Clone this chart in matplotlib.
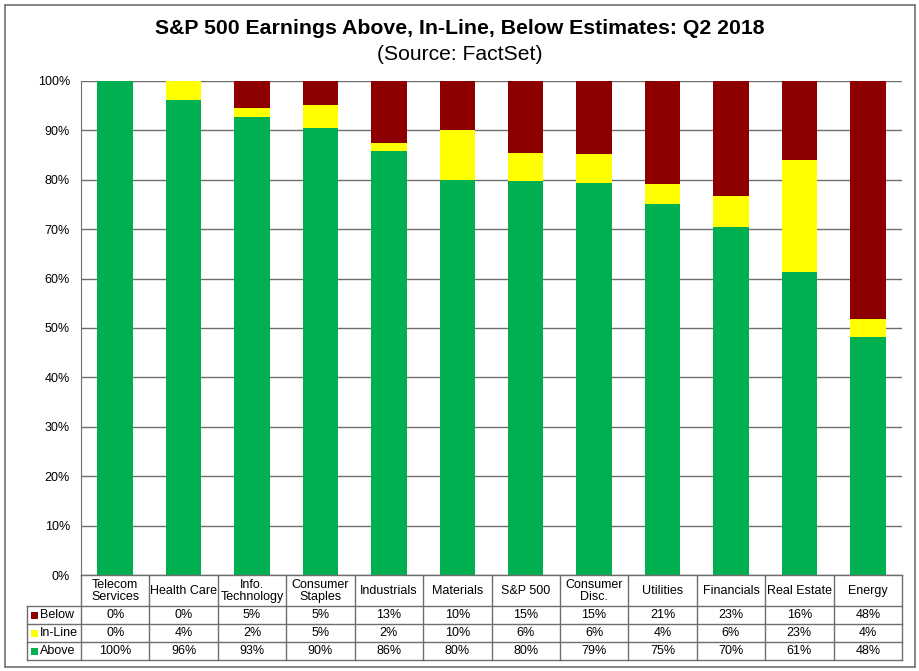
import numpy as np
import matplotlib
matplotlib.use("Agg")
import matplotlib.pyplot as plt
from matplotlib.patches import Rectangle
from matplotlib.lines import Line2D

plt.rcParams["font.family"] = ["Liberation Sans", "DejaVu Sans"]

categories = ["Telecom\nServices", "Health Care", "Info.\nTechnology", "Consumer\nStaples",
              "Industrials", "Materials", "S&P 500", "Consumer\nDisc.", "Utilities",
              "Financials", "Real Estate", "Energy"]
above = [100.0, 96.2, 92.7, 90.4, 85.8, 80.0, 79.8, 79.3, 75.1, 70.4, 61.3, 48.2]
inline = [0.0, 3.8, 1.9, 4.8, 1.6, 10.0, 5.6, 5.9, 4.0, 6.3, 22.7, 3.6]
below = [0.0, 0.0, 5.4, 4.8, 12.6, 10.0, 14.6, 14.8, 20.9, 23.3, 16.0, 48.2]

series = [("Below", below, "#8E0000"), ("In-Line", inline, "#FFFF00"), ("Above", above, "#00B050")]

W, H = 920, 671
fig = plt.figure(figsize=(W / 100, H / 100), dpi=100)

def fx(px):
    return px / W

def fy(py):
    return 1 - py / H

ax_l, ax_r, ax_t, ax_b = 81, 902, 81, 575
ax = fig.add_axes([fx(ax_l), fy(ax_b), fx(ax_r - ax_l), (ax_b - ax_t) / H])

x = np.arange(len(categories))
ab = np.array(above)
il = np.array(inline)
bl = np.array(below)
ax.bar(x, ab, width=0.52, color="#00B050", zorder=3)
ax.bar(x, il, width=0.52, bottom=ab, color="#FFFF00", zorder=3)
ax.bar(x, bl, width=0.52, bottom=ab + il, color="#8E0000", zorder=3)

ax.set_xlim(-0.5, len(categories) - 0.5)
ax.set_ylim(0, 100)
ax.set_yticks(range(0, 101, 10))
ax.set_yticklabels([f"{v}%" for v in range(0, 101, 10)], fontsize=9)
ax.set_xticks([])
ax.yaxis.grid(True, color="#6E6E6E", lw=1, zorder=0)
for s in ["top", "right", "bottom"]:
    ax.spines[s].set_visible(False)
ax.spines["left"].set_color("#6E6E6E")
ax.tick_params(axis="y", length=0, pad=8)

# outer border
fig.patches.append(Rectangle((fx(5), fy(667)), fx(910), (667 - 5) / H, fill=False,
                             edgecolor="#707070", lw=1.2, transform=fig.transFigure))

fig.text(0.5, fy(29), "S&P 500 Earnings Above, In-Line, Below Estimates: Q2 2018",
         ha="center", va="center", fontsize=15.3, fontweight="bold")
fig.text(0.5, fy(54), "(Source: FactSet)", ha="center", va="center", fontsize=15.2)

# data table
lc = "#6E6E6E"
rows_y = [575, 606, 624, 642, 660]
lab_l = 27
colw = (ax_r - ax_l) / len(categories)
col_x = [ax_l + i * colw for i in range(len(categories) + 1)]

def hline(y, x0, x1):
    fig.lines.append(Line2D([fx(x0), fx(x1)], [fy(y), fy(y)], color=lc, lw=1,
                            transform=fig.transFigure))

def vline(xp, y0, y1):
    fig.lines.append(Line2D([fx(xp), fx(xp)], [fy(y0), fy(y1)], color=lc, lw=1,
                            transform=fig.transFigure))

hline(rows_y[0], ax_l, ax_r)
for y in rows_y[1:]:
    hline(y, lab_l, ax_r)
for xp in col_x:
    vline(xp, rows_y[0], rows_y[-1])
vline(lab_l, rows_y[1], rows_y[-1])

for i, cat in enumerate(categories):
    cx = (col_x[i] + col_x[i + 1]) / 2
    fig.text(fx(cx), fy((rows_y[0] + rows_y[1]) / 2 + 0.5), cat, ha="center", va="center",
             fontsize=9, linespacing=1.05)

for r, (name, vals, color) in enumerate(series):
    cy = (rows_y[r + 1] + rows_y[r + 2]) / 2 + 0.5
    fig.patches.append(Rectangle((fx(lab_l + 4), fy(cy + 3.5)), fx(7), 7 / H,
                                 facecolor=color, edgecolor="none", transform=fig.transFigure))
    fig.text(fx(lab_l + 13), fy(cy), name, ha="left", va="center", fontsize=9)
    for i, v in enumerate(vals):
        cx = (col_x[i] + col_x[i + 1]) / 2
        fig.text(fx(cx), fy(cy), f"{v:.0f}%", ha="center", va="center", fontsize=9)

fig.savefig("out.png", dpi=100)
